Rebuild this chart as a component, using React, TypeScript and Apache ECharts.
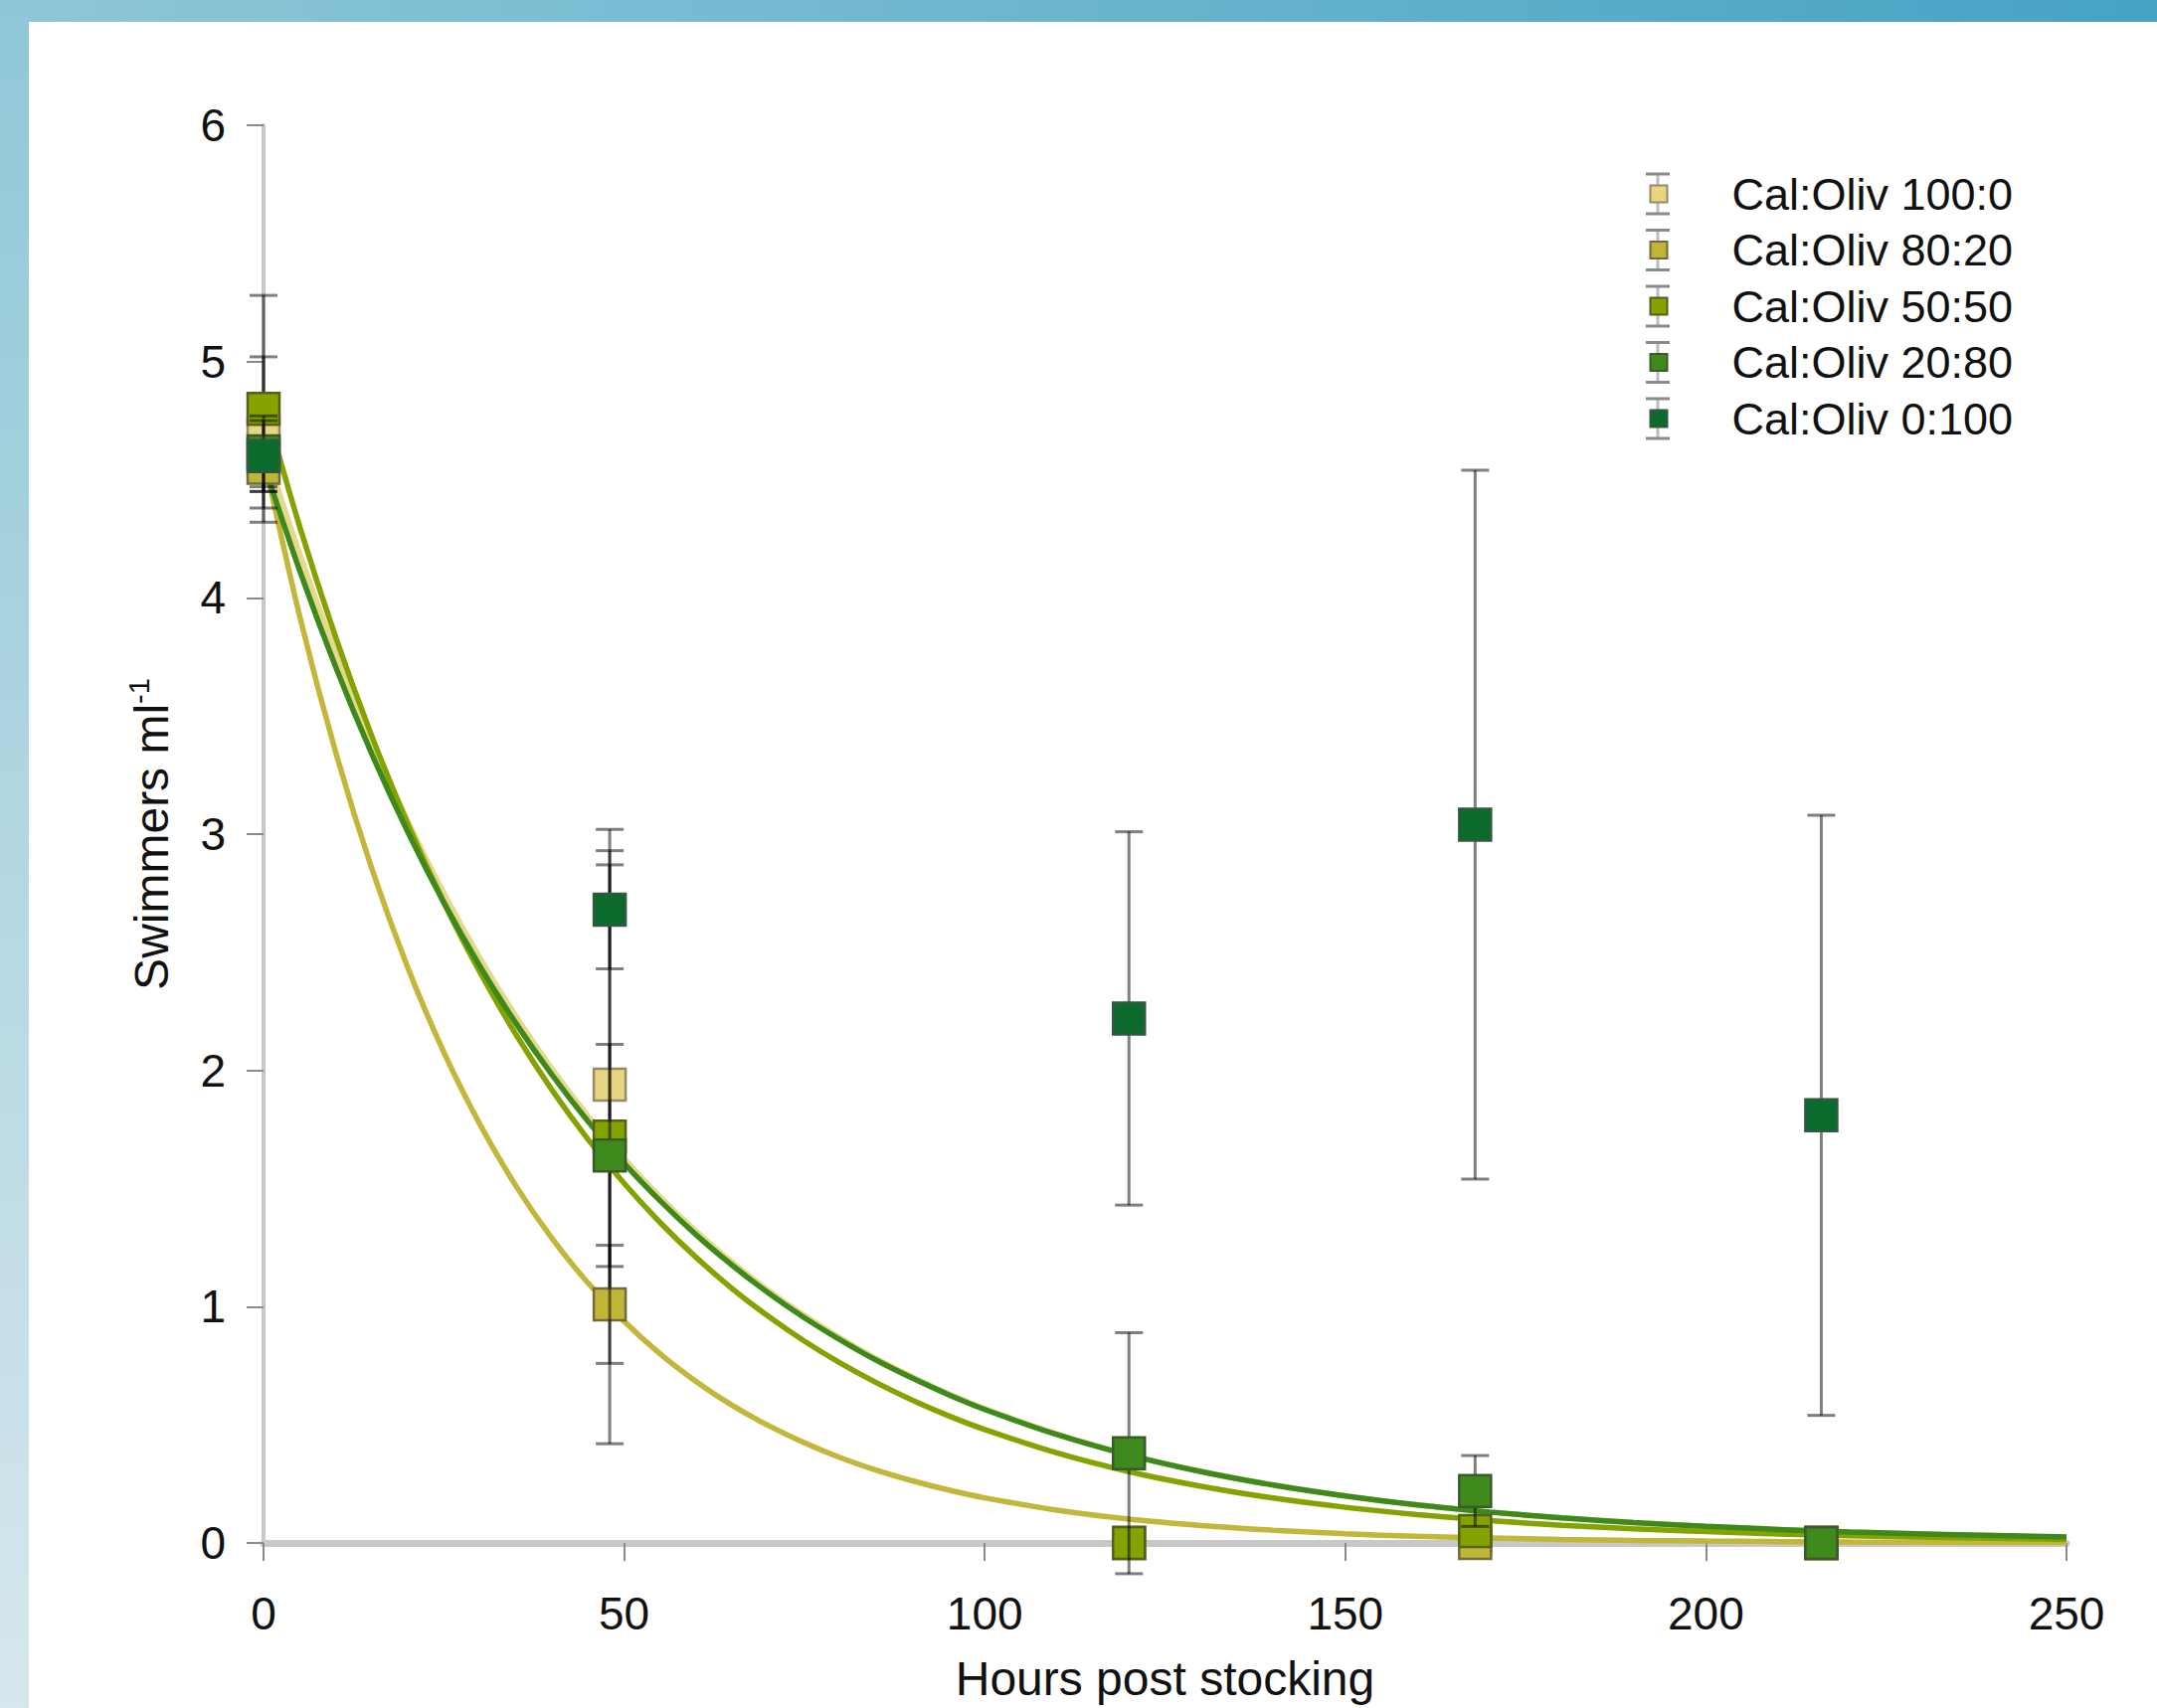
import React, { useEffect, useRef } from 'react';
import * as echarts from 'echarts';

// ---------- data ----------
const hours = [0, 48, 120, 168, 216];
const seriesNames = ['Cal:Oliv 100:0', 'Cal:Oliv 80:20', 'Cal:Oliv 50:50', 'Cal:Oliv 20:80', 'Cal:Oliv 0:100'];

const mean100 = [4.70, 1.94, 0.00, 0.02, 0.00];
const err100 = [0.32, 0.93, 0.00, 0.00, 0.00];
const mean80 = [4.55, 1.01, 0.00, 0.00, 0.00];
const err80 = [0.10, 0.25, 0.00, 0.00, 0.00];
const mean50 = [4.80, 1.72, 0.00, 0.05, 0.00];
const err50 = [0.48, 1.30, 0.00, 0.00, 0.00];
const mean20 = [4.62, 1.64, 0.38, 0.22, 0.00];
const err20 = [0.15, 0.47, 0.51, 0.15, 0.00];
const mean0 = [4.60, 2.68, 2.22, 3.04, 1.81];
const err0 = [0.15, 0.25, 0.79, 1.50, 1.27];

// fitted decay curves
const curveHours = [0, 5, 10, 15, 20, 25, 30, 35, 40, 45, 50, 55, 60, 65, 70, 75, 80, 85, 90, 95, 100,
  110, 120, 130, 140, 150, 160, 170, 180, 190, 200, 220, 250];
const fit100 = [4.650, 4.187, 3.769, 3.393, 3.055, 2.751, 2.476, 2.230, 2.007, 1.807, 1.627, 1.465, 1.319, 1.188, 1.069, 0.963, 0.867, 0.780, 0.703, 0.632, 0.569,
  0.461, 0.374, 0.303, 0.246, 0.199, 0.161, 0.131, 0.106, 0.086, 0.070, 0.046, 0.024];
const fit80 = [4.600, 3.924, 3.347, 2.855, 2.435, 2.077, 1.772, 1.511, 1.289, 1.100, 0.938, 0.800, 0.683, 0.582, 0.497, 0.424, 0.361, 0.308, 0.263, 0.224, 0.191,
  0.139, 0.101, 0.074, 0.054, 0.039, 0.028, 0.021, 0.015, 0.011, 0.008, 0.004, 0.002];
const fit50 = [4.830, 4.303, 3.834, 3.416, 3.043, 2.711, 2.416, 2.152, 1.917, 1.708, 1.522, 1.356, 1.208, 1.076, 0.959, 0.854, 0.761, 0.678, 0.604, 0.538, 0.480,
  0.381, 0.302, 0.240, 0.190, 0.151, 0.120, 0.095, 0.075, 0.060, 0.048, 0.030, 0.015];
const fit20 = [4.570, 4.117, 3.708, 3.340, 3.009, 2.710, 2.441, 2.199, 1.981, 1.784, 1.607, 1.448, 1.304, 1.175, 1.058, 0.953, 0.859, 0.773, 0.697, 0.627, 0.565,
  0.459, 0.372, 0.302, 0.245, 0.199, 0.161, 0.131, 0.106, 0.086, 0.070, 0.046, 0.025];

const xTicks = { min: 0, max: 250, interval: 50 };
const yTicks = { min: 0, max: 6, interval: 1 };

// ---------- styles ----------
const FONT = "'Liberation Sans', Arial, Helvetica, sans-serif";
const fills = ['#e6d582', '#c0b534', '#84a200', '#3e8a1c', '#0d6a2d'];
const borders = ['#958a62', '#6f6b3a', '#55601a', '#3a5a2c', '#2f5a40'];
const curveColors = ['#e7d88e', '#c2b73a', '#84a300', '#3d8a1b'];

const means = [mean100, mean80, mean50, mean20, mean0];
const errs = [err100, err80, err50, err20, err0];
const fits = [fit100, fit80, fit50, fit20];

const GRID = { left: 265, right: 91, top: 126, bottom: 166 };
const LEGEND_X = 1667;
const LEGEND_Y0 = 195;
const LEGEND_STEP = 56.5;

function errorSeries(i: number) {
  return {
    type: 'custom',
    name: 'err ' + seriesNames[i],
    z: 3 + 2 * i,
    silent: true,
    data: hours.map((h, k) => [h, means[i][k], errs[i][k]]),
    encode: { x: 0, y: 1 },
    renderItem: (params: any, api: any) => {
      const x = api.value(0);
      const y = api.value(1);
      const e = api.value(2);
      if (!(e > 0)) return { type: 'group', children: [] };
      const top = api.coord([x, y + e]);
      const bot = api.coord([x, y - e]);
      const hw = 14;
      const style = { stroke: 'rgba(0,0,0,0.5)', lineWidth: 3 };
      return {
        type: 'group',
        children: [
          { type: 'line', shape: { x1: top[0], y1: top[1], x2: bot[0], y2: bot[1] }, style },
          { type: 'line', shape: { x1: top[0] - hw, y1: top[1], x2: top[0] + hw, y2: top[1] }, style },
          { type: 'line', shape: { x1: bot[0] - hw, y1: bot[1], x2: bot[0] + hw, y2: bot[1] }, style },
        ],
      };
    },
  };
}

function scatterSeries(i: number) {
  return {
    type: 'scatter',
    name: seriesNames[i],
    z: 4 + 2 * i,
    symbol: 'rect',
    symbolSize: 32,
    data: hours.map((h, k) => [h, means[i][k]]),
    itemStyle: { color: fills[i], borderColor: borders[i], borderWidth: 2.5, opacity: 1 },
  };
}

function curveSeries(i: number) {
  return {
    type: 'line',
    name: 'fit ' + seriesNames[i],
    z: 2,
    silent: true,
    showSymbol: false,
    symbol: 'none',
    smooth: 0.3,
    data: curveHours.map((h, k) => [h, fits[i][k]]),
    lineStyle: { color: curveColors[i], width: 5.5 },
  };
}

export default function App() {
  const ref = useRef<HTMLDivElement>(null);

  useEffect(() => {
    if (!ref.current) return;
    const chart = echarts.init(ref.current, undefined, { renderer: 'svg' });

    const legendGraphics: any[] = [];
    seriesNames.forEach((_, i) => {
      const cy = LEGEND_Y0 + i * LEGEND_STEP;
      legendGraphics.push(
        { type: 'line', z: 1, shape: { x1: LEGEND_X, y1: cy - 20, x2: LEGEND_X, y2: cy + 20 }, style: { stroke: '#bdbdbd', lineWidth: 3 } },
        { type: 'line', z: 1, shape: { x1: LEGEND_X - 12, y1: cy - 20, x2: LEGEND_X + 12, y2: cy - 20 }, style: { stroke: '#8a8a8a', lineWidth: 3 } },
        { type: 'line', z: 1, shape: { x1: LEGEND_X - 12, y1: cy + 20, x2: LEGEND_X + 12, y2: cy + 20 }, style: { stroke: '#8a8a8a', lineWidth: 3 } }
      );
    });

    const series: any[] = [];
    for (let i = 0; i < 4; i++) series.push(curveSeries(i));
    for (let i = 0; i < 5; i++) {
      series.push(errorSeries(i));
      series.push(scatterSeries(i));
    }

    chart.setOption({
      animation: false,
      backgroundColor: '#ffffff',
      textStyle: { fontFamily: FONT },
      graphic: [
        {
          type: 'rect', z: -10, silent: true,
          shape: { x: 0, y: 0, width: 2169, height: 22 },
          style: {
            fill: new echarts.graphic.LinearGradient(0, 0, 1, 0, [
              { offset: 0, color: '#8fc7d7' },
              { offset: 1, color: '#46a3c4' },
            ]),
          },
        },
        {
          type: 'rect', z: -10, silent: true,
          shape: { x: 0, y: 0, width: 29, height: 1718 },
          style: {
            fill: new echarts.graphic.LinearGradient(0, 0, 0, 1, [
              { offset: 0, color: '#8fc7d7' },
              { offset: 1, color: '#d6e7ed' },
            ]),
          },
        },
        ...legendGraphics,
      ],
      grid: { ...GRID, containLabel: false },
      legend: {
        data: seriesNames,
        orient: 'vertical',
        left: LEGEND_X - 8.5,
        top: LEGEND_Y0 - 23,
        padding: 0,
        itemGap: LEGEND_STEP - 46,
        itemWidth: 17,
        itemHeight: 17,
        icon: 'rect',
        z: 10,
        selectedMode: false,
        textStyle: { fontSize: 45, lineHeight: 46, color: '#111', fontFamily: FONT, padding: [0, 0, 0, 60] },
      },
      xAxis: {
        type: 'value',
        ...xTicks,
        name: 'Hours post stocking',
        nameLocation: 'middle',
        nameGap: 112,
        nameTextStyle: { fontSize: 48, color: '#111', fontFamily: FONT },
        axisLine: { show: true, lineStyle: { color: '#c8c8c8', width: 7 } },
        axisTick: { show: true, inside: false, length: 18, lineStyle: { color: '#8a8a8a', width: 2 } },
        axisLabel: { fontSize: 46, color: '#111', margin: 48, fontFamily: FONT },
        splitLine: { show: false },
      },
      yAxis: {
        type: 'value',
        ...yTicks,
        name: '{a|Swimmers ml}{b|-1}',
        nameLocation: 'middle',
        nameRotate: 90,
        nameGap: 86,
        nameTextStyle: {
          color: '#111',
          fontFamily: FONT,
          rich: {
            a: { fontSize: 48, lineHeight: 54, color: '#111', fontFamily: FONT },
            b: { fontSize: 29, lineHeight: 29, verticalAlign: 'top', color: '#111', fontFamily: FONT },
          },
        },
        axisLine: { show: true, lineStyle: { color: '#c8c8c8', width: 4 } },
        axisTick: { show: true, inside: false, length: 17, lineStyle: { color: '#8a8a8a', width: 2 } },
        axisLabel: { fontSize: 46, color: '#111', margin: 38, fontFamily: FONT },
        splitLine: { show: false },
      },
      series,
    });

    return () => chart.dispose();
  }, []);

  return (
    <div
      ref={ref}
      style={{ position: 'absolute', left: 0, top: 0, width: 2169, height: 1718 }}
    />
  );
}
